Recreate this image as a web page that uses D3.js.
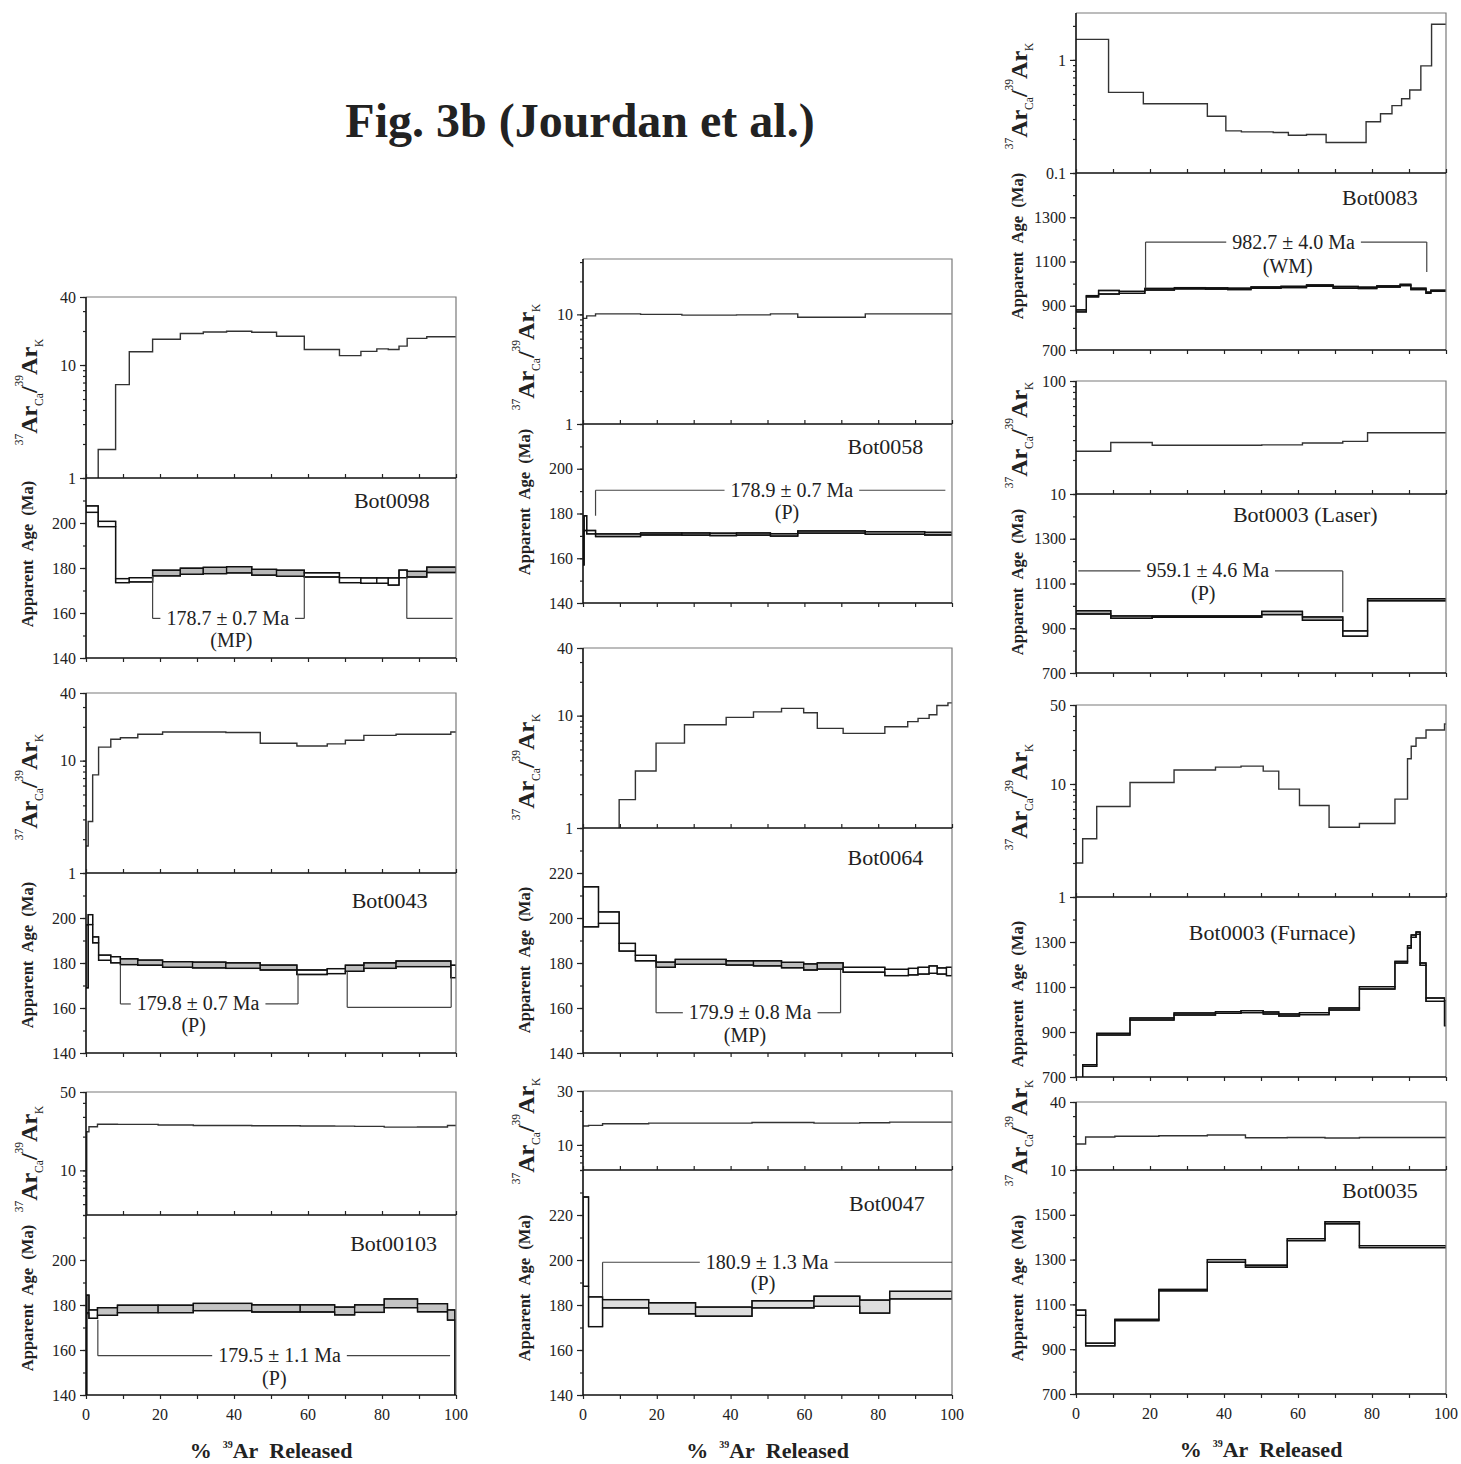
<!DOCTYPE html>
<html lang="en">
<head>
<meta charset="UTF-8">
<title>Fig. 3b (Jourdan et al.)</title>
<script src="https://d3js.org/d3.v7.min.js"></script>
<style>
    body { margin: 0; background: #ffffff; }
    svg { display: block; font-family: "Liberation Serif", "Times New Roman", serif; }
    .tick text { font-family: "Liberation Serif", "Times New Roman", serif; font-size: 16px; fill: #222; }
    .tick line { stroke: #222; stroke-width: 1.2; }
</style>
</head>
<body>
<script>
// step data: Ca/K = [from %, to %, ratio]; age = [from %, to %, low, high, in plateau]
const ca0098 = [[0,3.3,0.8],[3.3,8.0,1.79],[8.0,11.7,6.7],[11.7,18.0,13.1],[18.0,25.5,16.9],[25.5,31.7,19.0],[31.7,38.0,19.6],[38.0,44.8,19.9],[44.8,51.5,19.5],[51.5,59.0,18.0],[59.0,68.5,13.7],[68.5,74.3,12.1],[74.3,78.6,13.2],[78.6,81.7,13.9],[81.7,84.6,13.7],[84.6,86.8,14.7],[86.8,92.1,17.2],[92.1,100,17.8]];
const age0098 = [[0,3.3,204.7,207.6,0],[3.3,8.0,198.4,200.7,0],[8.0,11.7,173.5,175.3,0],[11.7,18.0,173.8,175.7,0],[18.0,25.5,176.5,179.0,1],[25.5,31.7,177.2,179.9,1],[31.7,38.0,177.5,180.3,1],[38.0,44.8,177.8,180.6,1],[44.8,51.5,176.8,179.4,1],[51.5,59.0,176.3,179.0,1],[59.0,68.5,176.0,177.9,0],[68.5,74.3,173.5,175.7,0],[74.3,78.6,173.2,175.6,0],[78.6,81.7,173.2,175.6,0],[81.7,84.6,172.4,175.6,0],[84.6,86.8,175.7,179.1,0],[86.8,92.1,176.0,178.5,1],[92.1,100,178.0,180.4,1]];

const ca0043 = [[0,0.6,1.74],[0.6,1.8,2.87],[1.8,3.4,7.47],[3.4,6.7,13.2],[6.7,9.3,15.5],[9.3,14.0,16.0],[14.0,20.7,17.2],[20.7,28.8,18.0],[28.8,37.8,18.0],[37.8,47.1,17.8],[47.1,57.0,14.3],[57.0,65.2,13.5],[65.2,70.1,14.1],[70.1,75.1,15.2],[75.1,83.8,16.8],[83.8,98.6,17.2],[98.6,100,18.0]];
const age0043 = [[0,0.6,169.0,197.0,0],[0.6,1.8,197.1,201.5,0],[1.8,3.4,189.0,191.6,0],[3.4,6.7,181.2,183.5,0],[6.7,9.3,180.1,182.8,0],[9.3,14.0,179.3,181.9,1],[14.0,20.7,179.0,181.3,1],[20.7,28.8,178.1,180.6,1],[28.8,37.8,177.8,180.4,1],[37.8,47.1,177.6,180.1,1],[47.1,57.0,176.9,179.1,1],[57.0,65.2,174.9,176.9,0],[65.2,70.1,175.3,177.5,0],[70.1,75.1,176.3,179.0,1],[75.1,83.8,177.6,180.1,1],[83.8,98.6,178.4,180.9,1],[98.6,100,173.5,179.0,0]];

const ca00103 = [[0,0.2,3],[0.2,0.8,22.1],[0.8,3.1,24.5],[3.1,8.5,25.8],[8.5,19.5,25.7],[19.5,29.0,25.4],[29.0,44.8,25.1],[44.8,57.9,25.0],[57.9,67.2,24.9],[67.2,72.6,24.8],[72.6,80.6,24.7],[80.6,89.6,24.3],[89.6,97.7,24.4],[97.7,100,25.1]];
const age00103 = [[0,0.2,120,176.0,0],[0.2,0.8,176.5,184.4,0],[0.8,3.1,174.1,177.8,0],[3.1,8.5,175.4,178.8,1],[8.5,19.5,176.6,179.9,1],[19.5,29.0,176.6,179.9,1],[29.0,44.8,177.5,180.7,1],[44.8,57.9,176.9,180.1,1],[57.9,67.2,176.9,180.1,1],[67.2,72.6,175.6,179.1,1],[72.6,80.6,176.7,180.1,1],[80.6,89.6,178.8,182.7,1],[89.6,97.7,177.0,180.6,1],[97.7,99.7,173.3,177.8,1],[99.7,100,120,173.3,0]];

const ca0058 = [[0,1.0,9.2],[1.0,3.4,9.7],[3.4,15.6,10.1],[15.6,26.8,10.0],[26.8,34.4,9.85],[34.4,41.6,9.85],[41.6,50.8,9.9],[50.8,58.2,10.1],[58.2,76.5,9.4],[76.5,92.6,10.1],[92.6,100,10.1]];
const age0058 = [[0,0.3,157.0,172.0,0],[0.3,1.0,172.4,179.0,0],[1.0,3.4,170.9,172.4,0],[3.4,15.6,169.7,170.9,1],[15.6,26.8,170.4,171.3,1],[26.8,34.4,170.3,171.3,1],[34.4,41.6,170.1,171.2,1],[41.6,50.8,170.3,171.3,1],[50.8,58.2,169.9,171.0,1],[58.2,76.5,171.2,172.2,1],[76.5,92.6,170.7,171.9,1],[92.6,100,170.4,171.6,1]];

const ca0064 = [[0,9.8,0.8],[9.8,14.2,1.79],[14.2,19.8,3.22],[19.8,27.5,5.69],[27.5,38.8,8.3],[38.8,46.2,9.66],[46.2,53.8,10.8],[53.8,59.8,11.6],[59.8,63.5,10.6],[63.5,70.5,7.7],[70.5,81.8,6.95],[81.8,88.0,7.97],[88.0,90.8,8.84],[90.8,93.8,9.46],[93.8,95.9,10.2],[95.9,98.9,12.3],[98.9,100,13.0]];
const age0064 = [[0,4.2,196.1,213.9,0],[4.2,9.8,197.6,202.7,0],[9.8,14.2,185.3,188.7,0],[14.2,19.8,181.0,183.4,0],[19.8,25.0,178.1,180.4,1],[25.0,38.8,179.4,181.6,1],[38.8,46.2,179.1,181.0,1],[46.2,53.8,178.7,181.0,1],[53.8,59.8,177.9,180.3,1],[59.8,63.5,176.9,179.6,1],[63.5,70.5,177.3,180.1,1],[70.5,81.8,175.9,178.1,0],[81.8,88.2,174.4,177.2,0],[88.2,90.8,174.7,177.6,0],[90.8,93.8,175.1,178.1,0],[93.8,96.0,175.4,178.7,0],[96.0,98.5,175.1,177.8,0],[98.5,100,174.4,178.1,0]];

const ca0047 = [[0,1.5,14.7],[1.5,5.3,14.9],[5.3,17.8,15.4],[17.8,30.5,15.6],[30.5,45.8,15.6],[45.8,62.6,15.8],[62.6,75.0,15.6],[75.0,83.1,15.7],[83.1,100,15.9]];
const age0047 = [[0,1.5,188.3,228.0,0],[1.5,5.3,170.4,183.6,0],[5.3,17.8,178.7,182.4,1],[17.8,30.5,176.1,181.0,1],[30.5,45.8,175.0,179.1,1],[45.8,62.6,178.7,181.9,1],[62.6,75.0,179.4,183.9,1],[75.0,83.1,176.4,182.2,1],[83.1,100,182.7,186.1,1]];

const ca0083 = [[0,8.8,1.52],[8.8,18.2,0.516],[18.2,35.5,0.41],[35.5,40.5,0.318],[40.5,44.7,0.236],[44.7,53.3,0.231],[53.3,57.4,0.228],[57.4,62.3,0.216],[62.3,67.6,0.219],[67.6,78.4,0.186],[78.4,82.3,0.284],[82.3,85.4,0.334],[85.4,88.0,0.394],[88.0,90.2,0.454],[90.2,93.2,0.542],[93.2,96.1,0.885],[96.1,100,2.07]];
const age0083 = [[0,2.8,872,881,0],[2.8,6.1,940,946,0],[6.1,11.7,953,969,0],[11.7,18.6,956,965,0],[18.6,26.6,971,978,1],[26.6,35.0,976,982,1],[35.0,41.0,975,981,1],[41.0,47.3,973,979,1],[47.3,55.4,979,985,1],[55.4,62.3,982,988,1],[62.3,69.5,988,994,1],[69.5,76.3,979,987,1],[76.3,81.3,978,984,1],[81.3,87.6,984,990,1],[87.6,90.5,991,997,1],[90.5,94.6,973,979,1],[94.6,95.9,956,962,0],[95.9,100,965,970,0]];

const caLaser = [[0,9.4,23.9],[9.4,20.6,28.6],[20.6,50.2,27.0],[50.2,61.2,27.2],[61.2,72.1,28.3],[72.1,78.8,29.2],[78.8,100,34.8]];
const ageLaser = [[0,9.4,963.7,978.5,1],[9.4,20.6,944.4,955,1],[20.6,50.2,949,955,1],[50.2,61.2,960.7,975.6,1],[61.2,72.1,935.6,950.4,1],[72.1,78.8,864.4,888,0],[78.8,100,1023,1031.9,0]];

const caFurnace = [[0,1.8,2.0],[1.8,5.6,3.28],[5.6,14.6,6.33],[14.6,26.5,10.3],[26.5,37.7,13.3],[37.7,44.6,14.1],[44.6,50.6,14.4],[50.6,54.8,13.0],[54.8,60.4,9.0],[60.4,68.4,6.46],[68.4,76.6,4.14],[76.6,86.2,4.47],[86.2,89.6,7.35],[89.6,90.6,16.7],[90.6,91.9,21.6],[91.9,94.6,25.5],[94.6,99.6,30.0],[99.6,100,34.0]];
const ageFurnace = [[0,1.8,660,690,0],[1.8,5.6,747.4,754.8,0],[5.6,14.6,886.7,894.1,0],[14.6,26.5,953.3,962.2,0],[26.5,37.7,975.6,984.4,0],[37.7,44.6,983,990.4,0],[44.6,50.6,986,994.8,0],[50.6,54.8,980,988.9,0],[54.8,60.4,971.1,980,0],[60.4,68.4,977,986,0],[68.4,76.6,997.8,1006.7,0],[76.6,86.2,1091.1,1101.5,0],[86.2,89.6,1206.7,1214,0],[89.6,90.6,1273.3,1283.7,0],[90.6,91.9,1320.7,1331.1,0],[91.9,93.0,1334,1344.4,0],[93.0,94.6,1196.3,1206.7,0],[94.6,99.6,1036.3,1051.1,0],[99.6,100,928,1039,0]];

const ca0035 = [[0,2.6,17.0],[2.6,10.5,19.6],[10.5,22.4,19.9],[22.4,35.5,20.1],[35.5,45.8,20.4],[45.8,57.1,19.3],[57.1,67.3,19.4],[67.3,76.6,19.2],[76.6,100,19.4]];
const age0035 = [[0,2.6,1051.1,1074.8,0],[2.6,10.5,914.8,926.7,0],[10.5,22.4,1027.4,1033.3,0],[22.4,35.5,1160.7,1166.7,0],[35.5,45.8,1288.1,1300,0],[45.8,57.1,1265.9,1274.8,0],[57.1,67.3,1384.4,1393.3,0],[67.3,76.6,1460,1468.9,0],[76.6,100,1353.3,1362.2,0]];

// tick labels
const xLabels = [0, 20, 40, 60, 80, 100];
const ageLab220 = [140, 160, 180, 200];
const ageLab240 = [140, 160, 180, 200, 220];
const ageLab1500 = [700, 900, 1100, 1300];
const ageLab1700 = [700, 900, 1100, 1300, 1500];

// plateau brackets (x in %, y in Ma)
const br0098 = [
    {x0: 18.0, x1: 59.0, y: 157.6, from0: 176.5, from1: 176.3, text: "178.7 ± 0.7 Ma", tx: 38.3, sub: "(MP)", sx: 39.3, sy: 144.9},
    {x0: 86.7, x1: 99.1, y: 157.6, from0: 176.0, from1: null}
];
const br0043 = [
    {x0: 9.3, x1: 57.3, y: 161.8, from0: 179.3, from1: 175.0, text: "179.8 ± 0.7 Ma", tx: 30.3, sub: "(P)", sx: 29.1, sy: 149.3},
    {x0: 70.6, x1: 98.7, y: 160.3, from0: 176.3, from1: 178.4}
];
const br00103 = [{x0: 3.2, x1: 98.4, y: 157.5, from0: 173.5, from1: null, text: "179.5 ± 1.1 Ma", tx: 52.3, sub: "(P)", sx: 50.9, sy: 144.4}];
const br0058 = [{x0: 3.4, x1: 98.2, y: 190.4, from0: 179.0, from1: null, text: "178.9 ± 0.7 Ma", tx: 56.6, sub: "(P)", sx: 55.3, sy: 177.5}];
const br0064 = [{x0: 19.8, x1: 69.8, y: 157.9, from0: 178.1, from1: 176.9, text: "179.9 ± 0.8 Ma", tx: 45.3, sub: "(MP)", sx: 43.9, sy: 145.0}];
const br0047 = [{x0: 5.3, x1: 100, y: 199.0, from0: 183.9, from1: null, text: "180.9 ± 1.3 Ma", tx: 49.9, sub: "(P)", sx: 48.8, sy: 186.8}];
const br0083 = [{x0: 18.8, x1: 94.8, y: 1188, from0: 979, from1: 1053, text: "982.7 ± 4.0 Ma", tx: 58.8, sub: "(WM)", sx: 57.2, sy: 1048.5}];
const brLaser = [{x0: 0.6, x1: 72.1, y: 1156, from0: null, from1: 971, text: "959.1 ± 4.6 Ma", tx: 35.6, sub: "(P)", sx: 34.4, sy: 1026}];

const svg = d3.select("body").append("svg").attr("width", 1461).attr("height", 1464);
const defs = svg.append("defs");

svg.append("text")
    .attr("x", 580).attr("y", 137)
    .attr("text-anchor", "middle")
    .attr("font-size", 48).attr("font-weight", "bold").attr("fill", "#222")
    .text("Fig. 3b (Jourdan et al.)");

// plot frame per column
const cols = [{x0: 86, x1: 456}, {x0: 583, x1: 952}, {x0: 1076, x1: 1446}];

const panels = [
    {name: "Bot0098", col: 0, top: 297, mid: 478, bot: 658, ca: ca0098, age: age0098, caDomain: [1, 40], caLabels: [1, 10, 40], ageDomain: [140, 220], ageLabels: ageLab220, ageMinor: 10, fill: "#b8b8b8", nameAt: [72.4, 206.7], caMid: 392, ageMid: 554, brackets: br0098},
    {name: "Bot0043", col: 0, top: 693, mid: 873, bot: 1053, ca: ca0043, age: age0043, caDomain: [1, 40], caLabels: [1, 10, 40], ageDomain: [140, 220], ageLabels: ageLab220, ageMinor: 10, fill: "#bcbcbc", nameAt: [71.8, 204.6], caMid: 787, ageMid: 955, brackets: br0043},
    {name: "Bot00103", col: 0, top: 1092, mid: 1215, bot: 1395, ca: ca00103, age: age00103, caDomain: [4, 50], caLabels: [10, 50], ageDomain: [140, 220], ageLabels: ageLab220, ageMinor: 10, fill: "#c4c4c4", nameAt: [71.4, 204.1], caMid: 1159, ageMid: 1298, brackets: br00103, xAxis: true},
    {name: "Bot0058", col: 1, top: 259, mid: 424, bot: 603, ca: ca0058, age: age0058, caDomain: [1, 32], caLabels: [1, 10], ageDomain: [140, 220], ageLabels: ageLab220, ageMinor: 10, fill: "#a8a8a8", nameAt: [71.7, 206.5], caMid: 357, ageMid: 502, brackets: br0058},
    {name: "Bot0064", col: 1, top: 648, mid: 828, bot: 1053, ca: ca0064, age: age0064, caDomain: [1, 40], caLabels: [1, 10, 40], ageDomain: [140, 240], ageLabels: ageLab240, ageMinor: 10, fill: "#bdbdbd", nameAt: [71.7, 223.6], caMid: 767, ageMid: 960, brackets: br0064},
    {name: "Bot0047", col: 1, top: 1091, mid: 1170, bot: 1395, ca: ca0047, age: age0047, caDomain: [6, 30], caLabels: [10, 30], ageDomain: [140, 240], ageLabels: ageLab240, ageMinor: 10, fill: "#dedede", nameAt: [72.1, 221.9], caMid: 1131, ageMid: 1288, brackets: br0047, xAxis: true},
    {name: "Bot0083", col: 2, top: 13, mid: 173, bot: 350, ca: ca0083, age: age0083, caDomain: [0.1, 2.6], caLabels: [0.1, 1], ageDomain: [700, 1500], ageLabels: ageLab1500, ageMinor: 100, fill: "#a0a0a0", nameAt: [71.9, 1354.7], caMid: 96, ageMid: 246, brackets: br0083},
    {name: "Bot0003 (Laser)", col: 2, top: 381, mid: 494, bot: 673, ca: caLaser, age: ageLaser, caDomain: [10, 100], caLabels: [10, 100], ageDomain: [700, 1500], ageLabels: ageLab1500, ageMinor: 100, fill: "#a8a8a8", nameAt: [42.4, 1376.9], caMid: 435, ageMid: 582, brackets: brLaser},
    {name: "Bot0003 (Furnace)", col: 2, top: 705, mid: 897, bot: 1077, ca: caFurnace, age: ageFurnace, caDomain: [1, 50], caLabels: [1, 10, 50], ageDomain: [700, 1500], ageLabels: ageLab1500, ageMinor: 100, fill: "#a8a8a8", nameAt: [30.5, 1308.9], caMid: 797, ageMid: 994, brackets: []},
    {name: "Bot0035", col: 2, top: 1102, mid: 1170, bot: 1394, ca: ca0035, age: age0035, caDomain: [10, 40], caLabels: [10, 40], ageDomain: [700, 1700], ageLabels: ageLab1700, ageMinor: 100, fill: "#a8a8a8", nameAt: [71.9, 1576.9], caMid: 1133, ageMid: 1288, brackets: [], xAxis: true}
];

function logTicks(dom) {
    const out = [];
    for (let e = Math.floor(Math.log10(dom[0])); e <= Math.ceil(Math.log10(dom[1])); e++) {
        for (let k = 1; k < 10; k++) {
            const v = +(k * Math.pow(10, e)).toPrecision(3);
            if (v >= dom[0] * 0.999 && v <= dom[1] * 1.001) out.push(v);
        }
    }
    return out;
}

function noDomain(sel) { sel.select(".domain").remove(); }

panels.forEach(drawPanel);

function drawPanel(p, i) {
    const c = cols[p.col];
    const x = d3.scaleLinear().domain([0, 100]).range([c.x0, c.x1]);
    const yCa = d3.scaleLog().domain(p.caDomain).range([p.mid, p.top]);
    const yAge = d3.scaleLinear().domain(p.ageDomain).range([p.bot, p.mid]);
    const g = svg.append("g");

    defs.append("clipPath").attr("id", "ca" + i).append("rect")
        .attr("x", c.x0).attr("y", p.top).attr("width", c.x1 - c.x0).attr("height", p.mid - p.top);
    defs.append("clipPath").attr("id", "age" + i).append("rect")
        .attr("x", c.x0).attr("y", p.mid).attr("width", c.x1 - c.x0).attr("height", p.bot - p.mid);

    // Ca/K spectrum as a step line
    const pts = p.ca.flatMap(d => [[d[0], d[2]], [d[1], d[2]]]);
    g.append("path")
        .attr("clip-path", `url(#ca${i})`)
        .attr("d", d3.line().x(d => x(d[0])).y(d => yCa(d[1]))(pts))
        .attr("fill", "none").attr("stroke", "#333").attr("stroke-width", 1.4);

    // age spectrum boxes, joined by upper and lower step lines
    const ag = g.append("g").attr("clip-path", `url(#age${i})`);
    ag.selectAll("rect").data(p.age).join("rect")
        .attr("x", d => x(d[0]))
        .attr("width", d => x(d[1]) - x(d[0]))
        .attr("y", d => yAge(d[3]))
        .attr("height", d => yAge(d[2]) - yAge(d[3]))
        .attr("fill", d => d[4] ? p.fill : "#fff")
        .attr("stroke", "#111").attr("stroke-width", 1.3);
    const step = d3.line().x(d => x(d[0])).y(d => yAge(d[1]));
    [3, 2].forEach(k => {
        ag.append("path")
            .attr("d", step(p.age.flatMap(d => [[d[0], d[k]], [d[1], d[k]]])))
            .attr("fill", "none").attr("stroke", "#111").attr("stroke-width", 1.3);
    });

    // frame
    g.append("path").attr("d", `M${c.x0},${p.top}H${c.x1}V${p.bot}`)
        .attr("fill", "none").attr("stroke", "#7a7a7a").attr("stroke-width", 1.2);
    g.append("path").attr("d", `M${c.x0},${p.top}V${p.bot}H${c.x1}M${c.x0},${p.mid}H${c.x1}`)
        .attr("fill", "none").attr("stroke", "#111").attr("stroke-width", 1.6);

    // y axes
    g.append("g").attr("transform", `translate(${c.x0},0)`)
        .call(d3.axisLeft(yCa).tickValues(logTicks(p.caDomain)).tickSize(3).tickFormat(""))
        .call(noDomain);
    g.append("g").attr("transform", `translate(${c.x0},0)`)
        .call(d3.axisLeft(yCa).tickValues(p.caLabels).tickSize(6).tickPadding(4).tickFormat(d => String(d)))
        .call(noDomain);
    g.append("g").attr("transform", `translate(${c.x0},0)`)
        .call(d3.axisLeft(yAge).tickValues(d3.range(p.ageDomain[0], p.ageDomain[1] + 1, p.ageMinor)).tickSize(3).tickFormat(""))
        .call(noDomain);
    g.append("g").attr("transform", `translate(${c.x0},0)`)
        .call(d3.axisLeft(yAge).tickValues(p.ageLabels).tickSize(6).tickPadding(4).tickFormat(d => String(d)))
        .call(noDomain);

    // x ticks on the divider and the bottom
    const xt = d3.range(0, 101, 10);
    g.append("g").attr("transform", `translate(0,${p.mid})`)
        .call(d3.axisTop(x).tickValues(xt).tickSize(4).tickFormat("")).call(noDomain);
    g.append("g").attr("transform", `translate(0,${p.bot})`)
        .call(d3.axisBottom(x).tickValues(xt).tickSize(4).tickFormat("")).call(noDomain);

    if (p.xAxis) {
        g.append("g").selectAll("text").data(xLabels).join("text")
            .attr("x", d => x(d)).attr("y", p.bot + 25)
            .attr("text-anchor", "middle").attr("font-size", 16).attr("fill", "#222")
            .text(d => d);
        const t = g.append("text")
            .attr("x", (c.x0 + c.x1) / 2).attr("y", p.bot + 63)
            .attr("text-anchor", "middle").attr("font-size", 22).attr("font-weight", "bold").attr("fill", "#222");
        t.append("tspan").text("%\u00a0\u00a0");
        t.append("tspan").attr("font-size", 10).attr("dy", -10).text("39");
        t.append("tspan").attr("dy", 10).text("Ar\u00a0\u00a0Released");
    }

    // y axis titles
    const ct = g.append("text")
        .attr("transform", `translate(${c.x0 - 49},${p.caMid}) rotate(-90)`)
        .attr("text-anchor", "middle").attr("font-weight", "bold").attr("fill", "#222");
    const parts = [["37", 11.5, -14, "normal"], ["Ar", 24, 14, "bold"], ["Ca", 11.5, 6, "normal"], ["/", 24, -6, "bold"],
                   ["39", 11.5, -14, "normal"], ["Ar", 24, 14, "bold"], ["K", 11.5, 6, "normal"]];
    parts.forEach(d => ct.append("tspan").attr("font-size", d[1]).attr("dy", d[2]).attr("font-weight", d[3]).text(d[0]));

    g.append("text")
        .attr("transform", `translate(${c.x0 - 53},${p.ageMid}) rotate(-90)`)
        .attr("text-anchor", "middle").attr("font-size", 16.5).attr("font-weight", "bold").attr("fill", "#222")
        .text("Apparent\u00a0\u00a0Age\u00a0\u00a0(Ma)");

    // sample name
    g.append("text")
        .attr("x", x(p.nameAt[0])).attr("y", yAge(p.nameAt[1]))
        .attr("font-size", 22).attr("fill", "#222")
        .text(p.name);

    p.brackets.forEach(b => drawBracket(g, b, x, yAge));
}

function drawBracket(g, b, x, y) {
    const yl = y(b.y);
    const lines = g.append("g").attr("stroke", "#444").attr("stroke-width", 1.2);
    let segs = [[x(b.x0), x(b.x1)]];
    if (b.text) {
        const t = g.append("text")
            .attr("x", x(b.tx)).attr("y", yl + 6.5)
            .attr("text-anchor", "middle").attr("font-size", 20).attr("fill", "#222")
            .text(b.text);
        const w = t.node().getComputedTextLength();
        segs = [[x(b.x0), x(b.tx) - w / 2 - 6], [x(b.tx) + w / 2 + 6, x(b.x1)]];
        g.append("text")
            .attr("x", x(b.sx)).attr("y", y(b.sy))
            .attr("text-anchor", "middle").attr("font-size", 20).attr("fill", "#222")
            .text(b.sub);
    }
    segs.filter(s => s[1] > s[0]).forEach(s => {
        lines.append("line").attr("x1", s[0]).attr("x2", s[1]).attr("y1", yl).attr("y2", yl);
    });
    if (b.from0 != null) lines.append("line").attr("x1", x(b.x0)).attr("x2", x(b.x0)).attr("y1", y(b.from0)).attr("y2", yl);
    if (b.from1 != null) lines.append("line").attr("x1", x(b.x1)).attr("x2", x(b.x1)).attr("y1", y(b.from1)).attr("y2", yl);
}
</script>
</body>
</html>
